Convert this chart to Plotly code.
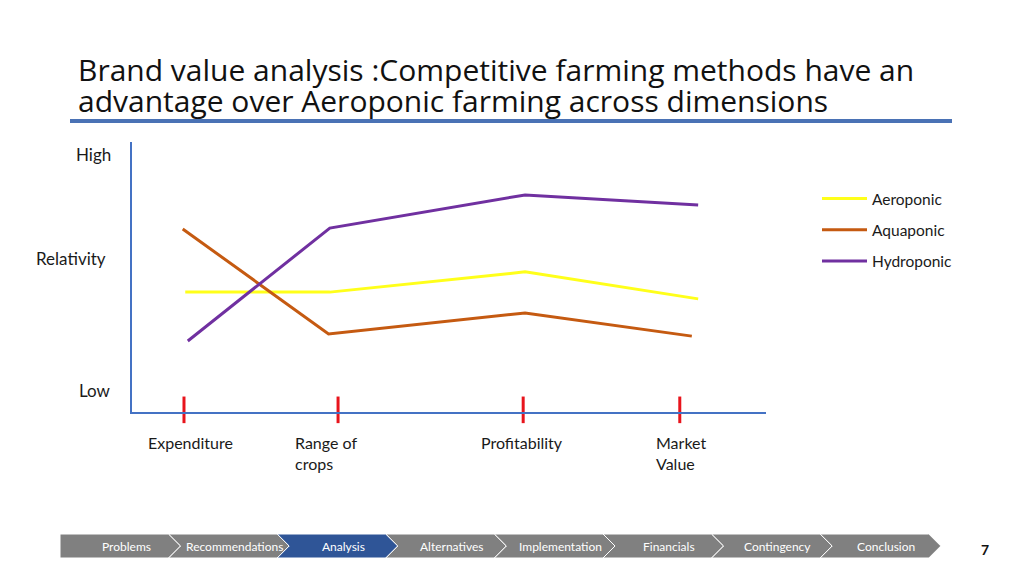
import plotly.graph_objects as go

W, H = 1024, 575

# Datos del gráfico (posición en el eje x de 0-10, relatividad 0-10)
series = ['Aeroponic', 'Aquaponic', 'Hydroponic']
colores = ['#ffff1a', '#c55a11', '#7030a0']
x_aero = [0.84, 3.12, 6.2, 8.93]
y_aero = [4.44, 4.44, 5.19, 4.19]
x_aqua = [0.80, 3.10, 6.2, 8.83]
y_aqua = [6.78, 2.89, 3.67, 2.81]
x_hydro = [0.88, 3.12, 6.2, 8.93]
y_hydro = [2.63, 6.81, 8.04, 7.67]

dimensiones = ['Expenditure', 'Range of<br>crops', 'Profitability', 'Market<br>Value']
x_marcas = [0.82, 3.25, 6.17, 8.64]
niveles = ['High', 'Relativity', 'Low']
y_niveles = [9.52, 5.67, 0.78]

etapas = ['Problems', 'Recommendations', 'Analysis', 'Alternatives',
          'Implementation', 'Financials', 'Contingency', 'Conclusion']
etapa_activa = 'Analysis'

titulo_1 = 'Brand value analysis :Competitive farming methods have an'
titulo_2 = 'advantage over Aeroponic farming across dimensions'

# posición (en unidades del eje x) donde empieza cada etiqueta
x_etiquetas = [0.22, 2.54, 5.47, 8.23]


def px(x, y):
    # pixeles -> coordenadas de papel
    return x / W, 1 - y / H


fig = go.Figure()

for nombre, color, xs, ys in zip(series, colores,
                                 [x_aero, x_aqua, x_hydro],
                                 [y_aero, y_aqua, y_hydro]):
    fig.add_trace(go.Scatter(x=xs, y=ys, mode='lines', name=nombre,
                             legendgroup=nombre,
                             line=dict(color=color, width=3)))

# Marcas rojas sobre el eje x
fig.add_trace(go.Scatter(x=x_marcas, y=[0.08] * len(x_marcas), mode='markers',
                         showlegend=False, hoverinfo='skip', cliponaxis=False,
                         marker=dict(symbol='line-ns', size=19,
                                     line=dict(color='#e8141c', width=3))))

x0, y0 = px(132, 412)
x1, y1 = px(766, 142)
eje = dict(showgrid=False, zeroline=False, showticklabels=False, ticks='',
           showline=True, linecolor='#4472c4', linewidth=1.5, fixedrange=True)
fig.update_layout(
    width=W, height=H,
    margin=dict(l=0, r=0, t=0, b=0),
    paper_bgcolor='white', plot_bgcolor='white',
    font=dict(family='Lato', size=14, color='#1a1a1a'),
    xaxis=dict(eje, domain=[x0, x1], range=[0, 10]),
    yaxis=dict(eje, domain=[y0, y1], range=[0, 10]),
    legend=dict(x=817 / W, y=1 - 182 / H, xanchor='left', yanchor='top',
                font=dict(family='Lato', size=15.5, color='#1a1a1a'),
                itemwidth=45, tracegroupgap=8, bgcolor='rgba(0,0,0,0)'),
)

# Etiquetas del eje x
for texto, xe in zip(dimensiones, x_etiquetas):
    fig.add_annotation(x=xe, y=1 - 431 / H,
                       xref='x', yref='paper', text=texto, showarrow=False,
                       xanchor='left', yanchor='top', align='left',
                       font=dict(size=16))

# Etiquetas del eje y
for texto, yv in zip(niveles, y_niveles):
    fig.add_annotation(x=113 / W if texto != 'Relativity' else 108 / W, y=yv,
                       xref='paper', yref='y', text=texto, showarrow=False,
                       xanchor='right', yanchor='middle', font=dict(size=17))

# Título
for i, t in enumerate([titulo_1, titulo_2]):
    fig.add_annotation(x=76 / W, y=1 - (70 + 31 * i) / H, xref='paper', yref='paper',
                       text=t, showarrow=False, xanchor='left', yanchor='middle',
                       font=dict(family='Open Sans', size=30, color='#111111'))

fig.add_shape(type='line', xref='paper', yref='paper',
              x0=70 / W, x1=952 / W, y0=1 - 121 / H, y1=1 - 121 / H,
              line=dict(color='#4a72b5', width=4))

# Barra de navegación
ancho, punta, top, bot = 108.6, 12, 534, 558
for i, etapa in enumerate(etapas):
    s = 60 + i * ancho
    e = s + ancho
    pts = [(s, top), (e, top), (e + punta, (top + bot) / 2), (e, bot), (s, bot)]
    if i > 0:
        pts.append((s + punta, (top + bot) / 2))
    path = 'M ' + ' L '.join('%f,%f' % px(a, b) for a, b in pts) + ' Z'
    fig.add_shape(type='path', path=path, xref='paper', yref='paper',
                  fillcolor='#2f5597' if etapa == etapa_activa else '#808080',
                  line=dict(color='white', width=1), layer='above')
    fig.add_annotation(x=(s + 66) / W, y=1 - 546 / H, xref='paper', yref='paper',
                       text=etapa, showarrow=False, xanchor='center', yanchor='middle',
                       font=dict(family='Lato', size=12, color='white'))

fig.add_annotation(x=985 / W, y=1 - 549 / H, xref='paper', yref='paper',
                   text='<b>7</b>', showarrow=False, xanchor='center', yanchor='middle',
                   font=dict(family='Lato', size=14, color='#111111'))

# quitar el margen del body para que la figura empiece en (0, 0)
fig.write_html('out.html', config={'displayModeBar': False},
               post_script="document.body.style.margin='0';")
